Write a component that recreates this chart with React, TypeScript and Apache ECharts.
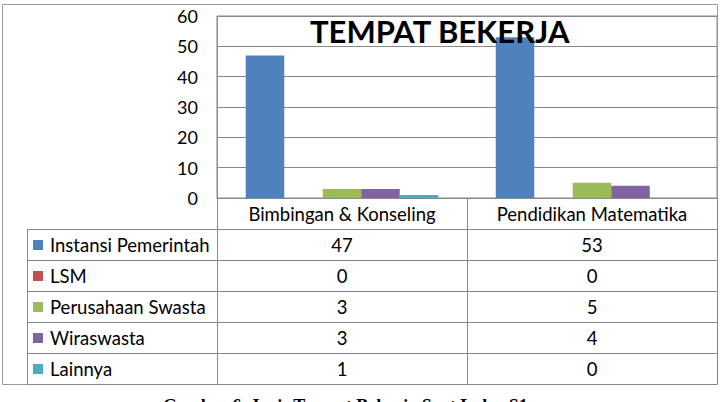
import React, { useEffect, useRef } from "react";
import * as echarts from "echarts";

const categories = ["Bimbingan & Konseling", "Pendidikan Matematika"];
const seriesNames = ["Instansi Pemerintah", "LSM", "Perusahaan Swasta", "Wiraswasta", "Lainnya"];
const instansiPemerintah = [47, 53];
const lsm = [0, 0];
const perusahaanSwasta = [3, 5];
const wiraswasta = [3, 4];
const lainnya = [1, 0];
const seriesColors = ["#4F81BD", "#C0504D", "#9BBB59", "#8064A2", "#4BACC6"];
const titleText = "TEMPAT BEKERJA";
const captionText = "Gambar 6. Jenis Tempat Bekerja Saat Lulus S1";

const allSeries = [instansiPemerintah, lsm, perusahaanSwasta, wiraswasta, lainnya];

const FONT = "Lato";
const FS = 18.5;
const LINE = "#888888";

const plotL = 217;
const plotR = 717;
const plotT = 16;
const plotB = 198;
const outerL = 2;
const outerT = 4;
const outerB = 384;
const tableL = 27;
const headerB = 229;
const rowH = 31;

export default function App() {
  const ref = useRef<HTMLDivElement>(null);
  useEffect(() => {
    if (!ref.current) return;
    const chart = echarts.init(ref.current, null, { renderer: "svg" });
    const colW = (plotR - plotL) / categories.length;
    const graphics: any[] = [];
    // outer border
    graphics.push({
      type: "rect",
      shape: { x: outerL + 0.5, y: outerT + 0.5, width: plotR - outerL, height: outerB - outerT },
      style: { fill: "none", stroke: "#9a9a9a", lineWidth: 1 },
      z: 1,
    });
    // table horizontal lines
    for (let i = 0; i <= seriesNames.length; i++) {
      const y = headerB + i * rowH + 0.5;
      graphics.push({
        type: "line",
        shape: { x1: tableL, y1: y, x2: plotR, y2: y },
        style: { stroke: LINE, lineWidth: 1 },
        z: 2,
      });
    }
    // vertical lines
    graphics.push({
      type: "line",
      shape: { x1: tableL + 0.5, y1: headerB, x2: tableL + 0.5, y2: outerB },
      style: { stroke: LINE, lineWidth: 1 },
      z: 2,
    });
    for (let c = 0; c <= categories.length; c++) {
      const x = plotL + c * colW + 0.5;
      graphics.push({
        type: "line",
        shape: { x1: x, y1: c === 0 ? plotT : plotB, x2: x, y2: outerB },
        style: { stroke: LINE, lineWidth: 1 },
        z: 2,
      });
    }
    // legend keys + values
    seriesNames.forEach((name, i) => {
      const cy = headerB + i * rowH + rowH / 2 + 0.5;
      graphics.push({
        type: "rect",
        shape: { x: 33, y: cy - 5, width: 10, height: 10 },
        style: { fill: seriesColors[i] },
        z: 3,
      });
      graphics.push({
        type: "text",
        x: 50,
        y: cy,
        style: { text: name, fontFamily: FONT, fontSize: FS, fill: "#000", verticalAlign: "middle", align: "left" },
        z: 3,
      });
      categories.forEach((_, c) => {
        graphics.push({
          type: "text",
          x: plotL + c * colW + colW / 2,
          y: cy,
          style: {
            text: String(allSeries[i][c]),
            fontFamily: FONT,
            fontSize: FS,
            fill: "#000",
            verticalAlign: "middle",
            align: "center",
          },
          z: 3,
        });
      });
    });
    // title
    graphics.push({
      type: "text",
      x: 310,
      y: 31,
      style: { text: titleText, fontFamily: FONT, fontWeight: "bold", fontSize: 31, fill: "#000", verticalAlign: "middle", align: "left" },
      z: 10,
    });
    // caption (partly cut off by the bottom edge, as in the source)
    graphics.push({
      type: "text",
      x: 163,
      y: 406,
      style: {
        text: captionText,
        fontFamily: "Liberation Serif",
        fontWeight: "bold",
        fontSize: 18,
        fill: "#000",
        verticalAlign: "middle",
        align: "left",
      },
      z: 10,
    });

    chart.setOption({
      animation: false,
      backgroundColor: "#fff",
      grid: {
        left: plotL,
        top: plotT,
        width: plotR - plotL,
        height: plotB - plotT,
        show: true,
        borderColor: LINE,
        borderWidth: 1,
        containLabel: false,
      },
      xAxis: {
        type: "category",
        data: categories,
        axisLine: { show: true, lineStyle: { color: LINE } },
        axisTick: { show: false },
        axisLabel: { fontFamily: FONT, fontSize: FS, color: "#000", margin: 16, verticalAlign: "middle", interval: 0 },
        splitLine: { show: false },
      },
      yAxis: {
        type: "value",
        min: 0,
        max: 60,
        interval: 10,
        axisLine: { show: false },
        axisTick: { show: false },
        axisLabel: { fontFamily: FONT, fontSize: 18, color: "#000", margin: 19 },
        splitLine: { show: true, lineStyle: { color: LINE, width: 1 } },
      },
      series: seriesNames.map((name, i) => ({
        name,
        type: "bar",
        data: allSeries[i],
        barGap: "0%",
        barCategoryGap: "23%",
        itemStyle: { color: seriesColors[i] },
      })),
      graphic: graphics,
    });
    return () => chart.dispose();
  }, []);
  return (
    <div
      ref={ref}
      style={{ position: "fixed", left: 0, top: 0, width: 722, height: 402, background: "#fff" }}
    />
  );
}
